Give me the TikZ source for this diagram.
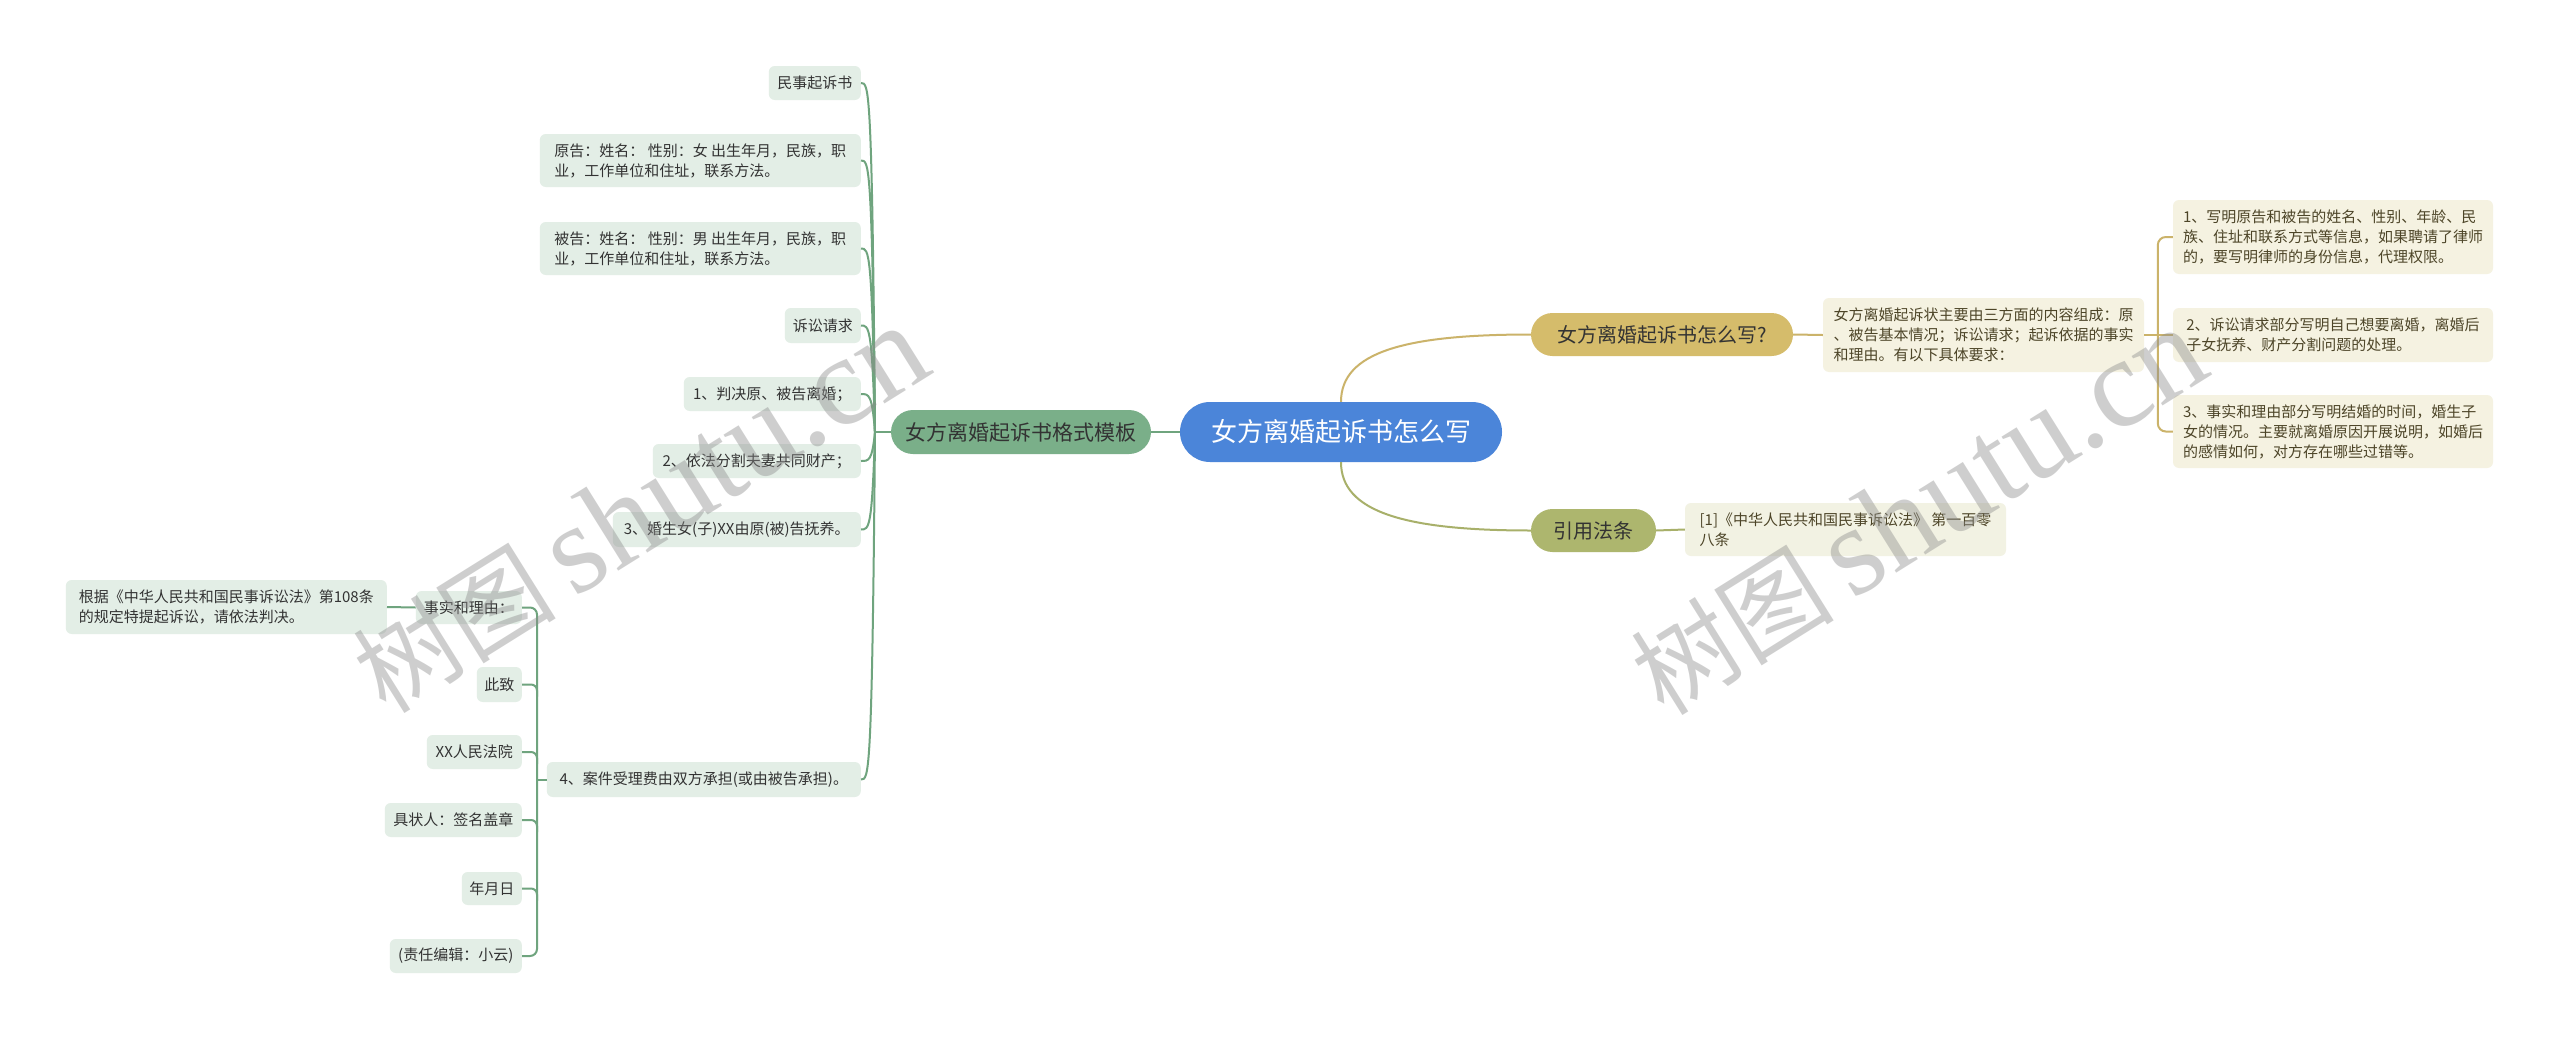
\documentclass[tikz,border=0pt]{standalone}
\usepackage{fontspec}
\setmainfont{Noto Sans CJK SC}
\newfontfamily\wmlatin{Liberation Serif}
\usetikzlibrary{calc}
\definecolor{rootfill}{HTML}{4B85D9}
\definecolor{tmplfill}{HTML}{7AAF89}
\definecolor{lfill}{HTML}{E3EEE6}
\definecolor{lline}{HTML}{6FA47E}
\definecolor{qfill}{HTML}{D5BC6B}
\definecolor{lawfill}{HTML}{ADB66E}
\definecolor{rfill}{HTML}{F5F2E1}
\definecolor{lawdfill}{HTML}{F2F2E3}
\definecolor{qline}{HTML}{CBB36A}
\definecolor{lawline}{HTML}{A8B06A}
\definecolor{txt}{HTML}{333333}
\definecolor{rtxt}{HTML}{4D4528}
\definecolor{wm}{HTML}{8C8C8C}
\tikzset{
  childfont/.style={font=\fontsize{15}{20}\selectfont},
  lbox/.style={childfont, fill=lfill, rounded corners=6pt, text=txt, align=left, inner sep=0pt, anchor=east},
  rbox/.style={childfont, fill=rfill, rounded corners=6pt, text=rtxt, align=left, inner sep=0pt},
  rootbox/.style={fill=rootfill, text=white, font=\fontsize{26}{30}\selectfont, rounded corners=30pt, minimum width=322, minimum height=60, inner sep=0pt},
  pill/.style={text=txt, inner sep=0pt, font=\fontsize{20}{24}\selectfont},
  lconn/.style={draw=lline, line width=2pt},
  qconn/.style={draw=qline, line width=2pt},
  lawconn/.style={draw=lawline, line width=2pt},
  wmark/.style={text=wm, opacity=0.42, rotate=32, inner sep=0pt}
}
\begin{document}
\begin{tikzpicture}[x=1pt,y=-1pt]
\fill[white] (0,0) rectangle (2560,1039);
\useasboundingbox (0,0) rectangle (2560,1039);

% root and main branches
\node[rootbox] (root) at (1341,432) {女方离婚起诉书怎么写};
\node[pill, fill=tmplfill, rounded corners=22pt, minimum width=260, minimum height=44, font=\fontsize{21}{25}\selectfont] (tmpl) at (1021,432) {女方离婚起诉书格式模板};
\node[pill, fill=qfill, rounded corners=21.5pt, minimum width=262, minimum height=43] (q) at (1662,334.5) {女方离婚起诉书怎么写?};
\node[pill, fill=lawfill, rounded corners=21.5pt, minimum width=125, minimum height=43] (law) at (1593.5,530.5) {引用法条};

% right details
\node[rbox, minimum width=321, minimum height=74] (qd) at (1983.5,335) {女方离婚起诉状主要由三方面的内容组成：原\\、被告基本情况；诉讼请求；起诉依据的事实\\和理由。有以下具体要求：};
\node[rbox, minimum width=320, minimum height=74] (r1) at (2333,237) {1、写明原告和被告的姓名、性别、年龄、民\\族、住址和联系方式等信息，如果聘请了律师\\的，要写明律师的身份信息，代理权限。};
\node[rbox, minimum width=320, minimum height=54] (r2) at (2333,335) {2、诉讼请求部分写明自己想要离婚，离婚后\\子女抚养、财产分割问题的处理。};
\node[rbox, minimum width=320, minimum height=73] (r3) at (2333,431.5) {3、事实和理由部分写明结婚的时间，婚生子\\女的情况。主要就离婚原因开展说明，如婚后\\的感情如何，对方存在哪些过错等。};
\node[rbox, fill=lawdfill, minimum width=321, minimum height=53] (lawd) at (1845.5,529.5) {[1]《中华人民共和国民事诉讼法》 第一百零\\八条};

% left children
\node[lbox, minimum width=92, minimum height=34] (n1) at (861,83) {民事起诉书};
\node[lbox, minimum width=321, minimum height=53] (n2) at (861,160.5) {原告：姓名： 性别：女 出生年月，民族，职\\业，工作单位和住址，联系方法。};
\node[lbox, minimum width=321, minimum height=53] (n3) at (861,248.5) {被告：姓名： 性别：男 出生年月，民族，职\\业，工作单位和住址，联系方法。};
\node[lbox, minimum width=76, minimum height=35] (n4) at (861,325.5) {诉讼请求};
\node[lbox, minimum width=177, minimum height=34] (n5) at (861,394) {1、判决原、被告离婚；};
\node[lbox, minimum width=208, minimum height=34] (n6) at (861,461) {2、依法分割夫妻共同财产；};
\node[lbox, minimum width=248, minimum height=35] (n7) at (861,529.5) {3、婚生女(子)XX由原(被)告抚养。};
\node[lbox, minimum width=314, minimum height=35] (n8) at (861,779.5) {4、案件受理费由双方承担(或由被告承担)。};

% sub children of n8
\node[lbox, minimum width=106, minimum height=33] (s1) at (522,607.5) {事实和理由：};
\node[lbox, minimum width=321, minimum height=54] (s0) at (387,607) {根据《中华人民共和国民事诉讼法》第108条\\的规定特提起诉讼，请依法判决。};
\node[lbox, minimum width=45, minimum height=35] (s2) at (522,684.5) {此致};
\node[lbox, minimum width=95, minimum height=34] (s3) at (522,752) {XX人民法院};
\node[lbox, minimum width=137, minimum height=34] (s4) at (522,820) {具状人：签名盖章};
\node[lbox, minimum width=60, minimum height=33] (s5) at (522,888.5) {年月日};
\node[lbox, minimum width=132, minimum height=34] (s6) at (522,956) {(责任编辑：小云)};

% connectors: root
\draw[lconn] (root.west) -- (tmpl.east);
\draw[qconn] (root.north) .. controls +(0,-50) and +(-125,0) .. (q.west);
\draw[lawconn] (root.south) .. controls +(0,50) and +(-125,0) .. (law.west);

% right side
\draw[qconn] (q.east) -- (qd.west);
\draw[qconn] (qd.east) -- (r2.west);
\draw[qconn, rounded corners=8pt] (r1.west) -- ++(-15,0) |- (r3.west);
\draw[lawconn] (law.east) -- (lawd.west);

% left trunk
\coordinate (J) at (875,432);
\draw[lconn] (tmpl.west) -- (J);
\foreach \n in {n1,n2,n3,n4,n5,n6,n7,n8}{
  \draw[lconn] (J) .. controls ($(J|-\n.east)+(-3,0)$) and ($(\n.east)+(8,0)$) .. (\n.east);
}

% sub bracket
\draw[lconn] (n8.west) -- ++(-10,0);
\draw[lconn, rounded corners=7pt] (s1.east) -- ++(15,0) |- (s6.east);
\foreach \n in {s2,s3,s4,s5}{
  \draw[lconn, rounded corners=6pt] (\n.east) -- ++(15,0) -- ++(0,12);
}
\draw[lconn] (s0.east) -- (s1.west);

% watermarks
\node[wmark] (wm1) at (640,510) {\fontsize{102}{110}\selectfont 树图\hspace{18pt}{\wmlatin\fontsize{127}{130}\selectfont shutu.cn}};
\node[wmark] (wm2) at (1918,512) {\fontsize{102}{110}\selectfont 树图\hspace{18pt}{\wmlatin\fontsize{127}{130}\selectfont shutu.cn}};
\end{tikzpicture}
\end{document}
